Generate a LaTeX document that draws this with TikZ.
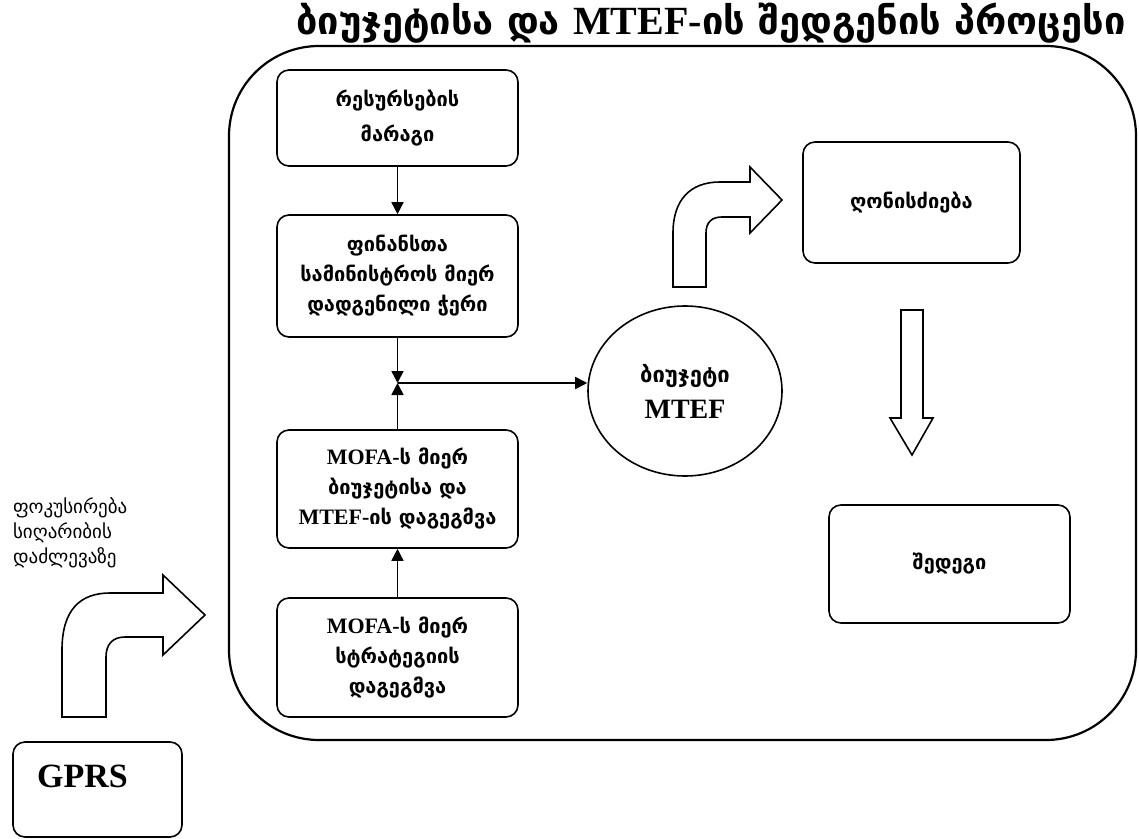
\documentclass[tikz,border=0pt]{standalone}
\usepackage{fontspec}
\setmainfont{DejaVu Sans}
\newfontfamily\lat{Liberation Serif}
\usetikzlibrary{arrows.meta, positioning, shapes.geometric}

\newcommand{\latbox}[1]{{\lat\fontsize{11}{15}\selectfont #1}}

\begin{document}
\begin{tikzpicture}[x=0.5pt, y=-0.5pt, >={Triangle[length=6pt, width=6pt]}]
% We define the styles for the blocks and the arrows
 \tikzset{
block/.style = {draw, rectangle, rounded corners=6pt, line width=0.8pt, minimum width=120.5pt, align=center, font=\bfseries\fontsize{10}{15}\selectfont},
line/.style = {draw, ->, line width=0.8pt},
bigarrow/.style = {draw, line width=0.8pt, line join=miter},
}
 \useasboundingbox (0,0) rectangle (1139,839);

 % Title and outer frame
 \node (title) at (711,23) {\bfseries\fontsize{19}{21}\selectfont ბიუჯეტისა და {\lat\fontsize{20}{21}\selectfont MTEF-}ის შედგენის პროცესი};
 \draw [line width=1.1pt, rounded corners=45pt] (229,46) rectangle (1136,740);

 % Planning blocks
 \node [block, minimum height=48pt, font=\bfseries\fontsize{10}{17.5}\selectfont] (stock) at (397.5,118) {რესურსების\\მარაგი};
 \node [block, minimum height=61pt] (ceiling) at (397.5,276) {ფინანსთა\\სამინისტროს მიერ\\დადგენილი ჭერი};
 \node [block, minimum height=59pt] (plan) at (397.5,489) {\latbox{MOFA-}ს მიერ\\ბიუჯეტისა და\\\latbox{MTEF-}ის დაგეგმვა};
 \node [block, minimum height=59.5pt] (strategy) at (397.5,657.5) {\latbox{MOFA-}ს მიერ\\სტრატეგიის\\დაგეგმვა};
 \coordinate (junction) at (397.5,383);

 % Budget ellipse
 \node [ellipse, draw, line width=0.8pt, minimum width=97pt, minimum height=85pt, align=center, font=\bfseries\fontsize{11}{18}\selectfont] (budget) at (685,391) {ბიუჯეტი\\{\lat\fontsize{14}{18}\selectfont MTEF}};

 % Measures and result
 \node [block, minimum width=108.5pt, minimum height=60.5pt] (measures) at (911.5,202.5) {ღონისძიება};
 \node [block, minimum height=59pt] (result) at (949.5,564) {შედეგი};

 % GPRS and its label
 \node [block, minimum width=84.5pt, minimum height=47.5pt, label={[xshift=-7.5pt, yshift=6.5pt, font=\lat\bfseries\fontsize{17}{19}\selectfont]center:GPRS}] (gprs) at (97.5,789.5) {};
 \node [anchor=west, align=left, font=\fontsize{9.5}{12.5}\selectfont] (focus) at (6,533) {ფოკუსირება\\სიღარიბის\\დაძლევაზე};

 % Arrows
 \draw [line] (stock) -- (ceiling);
 \draw [line] (ceiling) -- (junction);
 \draw [line] (strategy) -- (plan);
 \draw [line] (plan) -- (junction);
 \draw [line] (junction) -- (junction -| budget.west);

 % Block arrows
 \draw [bigarrow] (673,287) -- (673,233) .. controls (673,200) and (690,182) .. (720,182) -- (750,182) -- (750,167) -- (782,200) -- (750,233) -- (750,217) -- (722,217) .. controls (712,217) and (706,222) .. (706,233) -- (706,287) -- cycle;
 \draw [bigarrow] (62,717) -- (62,650) .. controls (62,610) and (80,593) .. (110,593) -- (163,593) -- (163,575) -- (205,615) -- (163,655) -- (163,637) -- (125,637) .. controls (112,637) and (106,645) .. (106,657) -- (106,717) -- cycle;
 \draw [bigarrow] (901,310) -- (923,310) -- (923,418) -- (933,418) -- (912,455) -- (890,418) -- (901,418) -- cycle;

\end{tikzpicture}
\end{document}
